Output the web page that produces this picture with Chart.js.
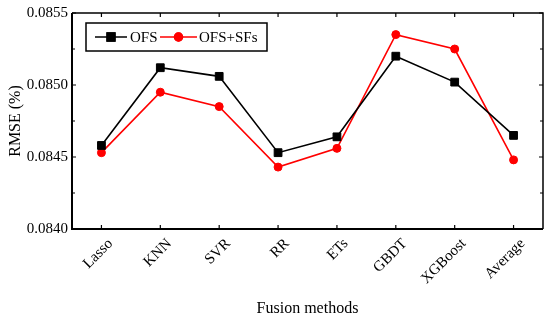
<!DOCTYPE html>
<html>
<head>
<meta charset="utf-8">
<script src="https://cdn.jsdelivr.net/npm/chart.js@4/dist/chart.umd.min.js"></script>
<style>
html,body{margin:0;padding:0;background:#fff;}
#c{display:block;}
</style>
</head>
<body>
<canvas id="c" width="550" height="321"></canvas>
<script>
const categories = ['Lasso','KNN','SVR','RR','ETs','GBDT','XGBoost','Average'];
const ofs = [0.08458, 0.08512, 0.08506, 0.08453, 0.08464, 0.08520, 0.08502, 0.08465];
const ofsSfs = [0.08453, 0.08495, 0.08485, 0.08443, 0.08456, 0.08535, 0.08525, 0.08448];
const yTicks = [0.0840, 0.0845, 0.0850, 0.0855];
const yMinorTicks = [0.08425, 0.08475, 0.08525];
const seriesNames = ['OFS', 'OFS+SFs'];

const FONT = "'Liberation Serif', 'Times New Roman', serif";

const framePlugin = {
  id: 'frame',
  afterDraw(chart) {
    const ctx = chart.ctx;
    const a = chart.chartArea;
    const xs = chart.scales.x, ys = chart.scales.y;
    ctx.save();
    ctx.strokeStyle = '#000';
    // ticks
    ctx.lineWidth = 1.2;
    ctx.beginPath();
    categories.forEach((c, i) => {
      const x = xs.getPixelForValue(i);
      ctx.moveTo(x, a.bottom); ctx.lineTo(x, a.bottom - 4);
      ctx.moveTo(x, a.top); ctx.lineTo(x, a.top + 4);
    });
    yTicks.forEach(v => {
      const y = ys.getPixelForValue(v);
      ctx.moveTo(a.left, y); ctx.lineTo(a.left + 4, y);
      ctx.moveTo(a.right, y); ctx.lineTo(a.right - 4, y);
    });
    yMinorTicks.forEach(v => {
      const y = ys.getPixelForValue(v);
      ctx.moveTo(a.left, y); ctx.lineTo(a.left + 3, y);
      ctx.moveTo(a.right, y); ctx.lineTo(a.right - 3, y);
    });
    ctx.stroke();
    // frame
    ctx.lineWidth = 1.5;
    ctx.beginPath();
    ctx.moveTo(a.left, a.top); ctx.lineTo(a.right, a.top); ctx.lineTo(a.right, a.bottom);
    ctx.stroke();
    ctx.lineWidth = 2;
    ctx.beginPath();
    ctx.moveTo(a.left, a.top); ctx.lineTo(a.left, a.bottom); ctx.lineTo(a.right, a.bottom);
    ctx.stroke();

    // legend box
    const bx = a.left + 14, by = a.top + 10, bw = 181, bh = 28;
    ctx.lineWidth = 1.5;
    ctx.strokeRect(bx, by, bw, bh);
    const cy = by + bh / 2;
    const items = [
      {x0: bx + 9, x1: bx + 41, tx: bx + 44, ds: chart.data.datasets[0]},
      {x0: bx + 74, x1: bx + 111, tx: bx + 113, ds: chart.data.datasets[1]}
    ];
    ctx.font = "15px " + FONT;
    ctx.textBaseline = 'middle';
    ctx.textAlign = 'left';
    items.forEach(it => {
      const ds = it.ds;
      ctx.strokeStyle = ds.borderColor;
      ctx.lineWidth = 1.5;
      ctx.beginPath(); ctx.moveTo(it.x0, cy); ctx.lineTo(it.x1, cy); ctx.stroke();
      Chart.helpers.drawPoint(ctx, {pointStyle: ds.pointStyle, radius: ds.pointRadius, borderWidth: 1}, (it.x0 + it.x1) / 2, cy);
      ctx.fillStyle = ds.pointBackgroundColor;
      ctx.strokeStyle = ds.pointBorderColor;
      ctx.fill(); ctx.stroke();
      ctx.fillStyle = '#000';
      ctx.fillText(ds.label, it.tx, cy + 1);
    });
    ctx.restore();
  }
};

new Chart(document.getElementById('c'), {
  type: 'line',
  data: {
    labels: categories,
    datasets: [
      {
        label: seriesNames[0], data: ofs,
        borderColor: '#000', backgroundColor: '#000',
        pointBackgroundColor: '#000', pointBorderColor: '#000',
        pointStyle: 'rect', pointRadius: 5.5, pointBorderWidth: 1,
        borderWidth: 1.6, tension: 0
      },
      {
        label: seriesNames[1], data: ofsSfs,
        borderColor: '#ff0000', backgroundColor: '#ff0000',
        pointBackgroundColor: '#ff0000', pointBorderColor: '#ff0000',
        pointStyle: 'circle', pointRadius: 4, pointBorderWidth: 1,
        borderWidth: 1.6, tension: 0
      }
    ]
  },
  options: {
    responsive: false,
    devicePixelRatio: 1,
    animation: false,
    layout: {padding: {top: 13, right: 7, left: 0, bottom: 0}},
    plugins: {legend: {display: false}, tooltip: {enabled: false}},
    scales: {
      x: {
        type: 'category',
        offset: true,
        grid: {display: false, drawTicks: false},
        border: {display: false},
        ticks: {
          color: '#000', font: {family: FONT, size: 15},
          maxRotation: 45, minRotation: 45, padding: 6, labelOffset: 9, autoSkip: false
        },
        title: {display: true, text: 'Fusion methods', color: '#000', font: {family: FONT, size: 16}, padding: {top: 0, bottom: 3}},
        afterFit(s) { s.height = 92; }
      },
      y: {
        min: 0.084, max: 0.0855,
        grid: {display: false, drawTicks: false},
        border: {display: false},
        afterBuildTicks(s) { s.ticks = yTicks.map(v => ({value: v})); },
        ticks: {
          color: '#000', font: {family: FONT, size: 15}, padding: 4,
          callback: v => Number(v).toFixed(4)
        },
        title: {display: true, text: 'RMSE (%)', color: '#000', font: {family: FONT, size: 16}, padding: {top: 6, bottom: 0}},
        afterFit(s) { s.width = 72; }
      }
    }
  },
  plugins: [framePlugin]
});
</script>
</body>
</html>
